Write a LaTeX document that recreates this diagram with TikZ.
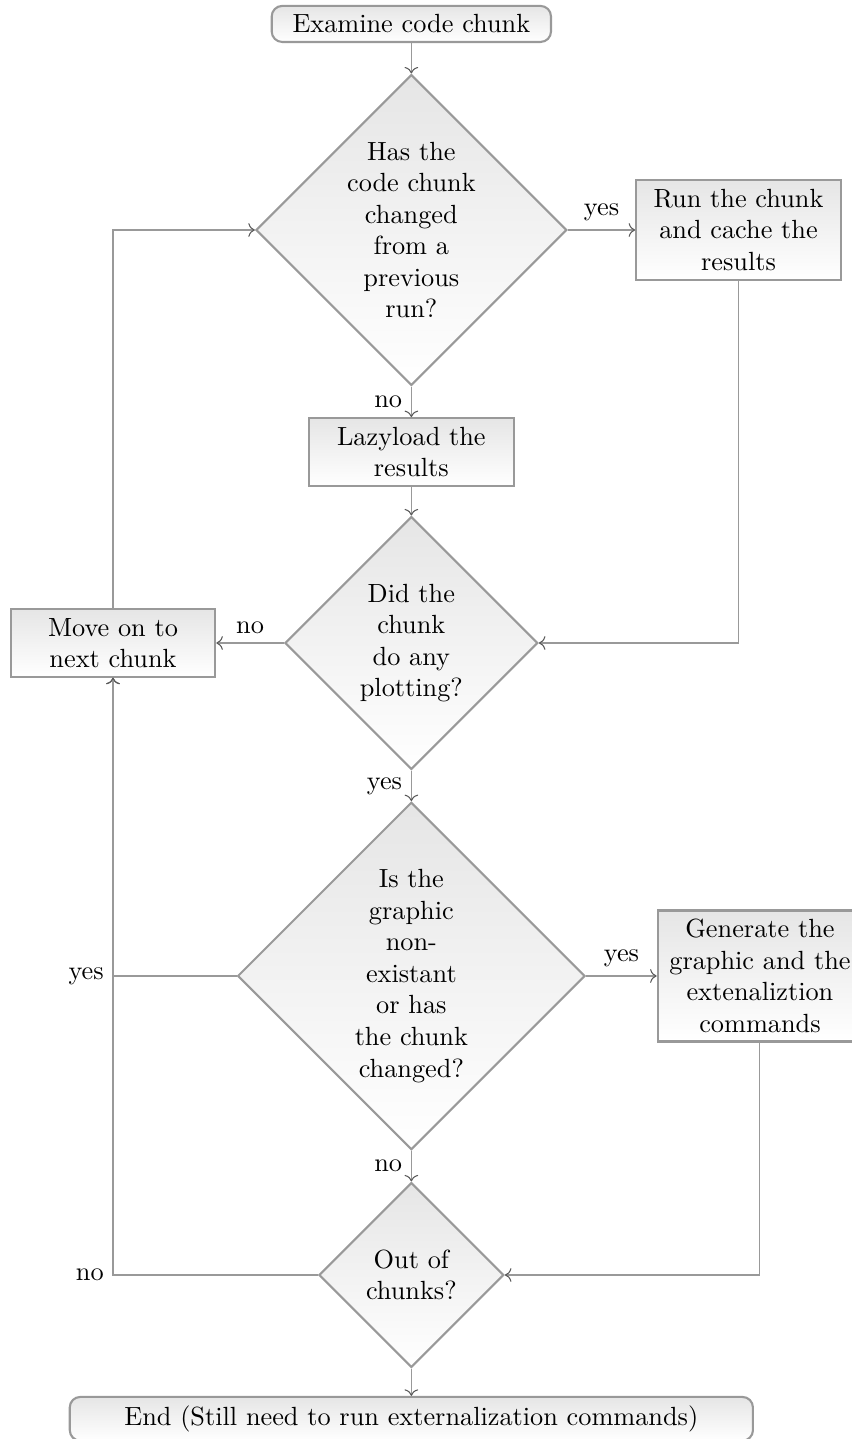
\documentclass[tikz,border=0pt]{standalone}
\usetikzlibrary{shapes.geometric,arrows.meta}
\begin{document}
\begin{tikzpicture}[
    box/.style={rectangle, draw=gray!80, line width=0.8pt, top color=black!10, bottom color=white, text width=2.5cm, align=center},
    decision/.style={diamond, aspect=1, draw=gray!80, line width=0.8pt, top color=black!10, bottom color=white, text width=1.8cm, inner sep=0pt, align=center},
    startstop/.style={rectangle, rounded corners, draw=gray!80, line width=0.8pt, top color=black!10, bottom color=white, align=center},
    flow/.style={-{To[color=black!65]}, draw=gray!80}
]
    \useasboundingbox (0,0) rectangle (11.39,-19.24);

    \node[startstop, text width=3.5cm] (start) at (5.50,-0.32) {Examine code chunk};
    \node[decision] (changed) at (5.50,-3.075) {Has the\\code chunk\\changed\\from a\\previous\\run?};
    \node[box] (run) at (9.874,-3.075) {Run the chunk\\and cache the\\results};
    \node[box] (lazy) at (5.50,-6.043) {Lazyload the\\results};
    \node[decision] (plot) at (5.50,-8.597) {Did the\\chunk\\do any\\plotting?};
    \node[box] (next) at (1.511,-8.597) {Move on to\\next chunk};
    \node[decision] (graphic) at (5.50,-13.049) {Is the\\graphic\\non-\\existant\\or has\\the chunk\\changed?};
    \node[box] (gen) at (10.161,-13.049) {Generate the\\graphic and the\\extenaliztion\\commands};
    \node[decision] (out) at (5.50,-17.047) {Out of\\chunks?};
    \node[startstop, text width=8.9cm] (end) at (5.50,-18.97) {End (Still need to run externalization commands)};

    \draw[flow] (start) -- (changed);
    \draw[flow] (changed) -- node[above] {yes} (run);
    \draw[flow] (changed) -- node[left] {no} (lazy);
    \draw[flow] (lazy) -- (plot);
    \draw[flow] (run.south) |- (plot.east);
    \draw[flow] (plot) -- node[above] {no} (next);
    \draw[flow] (next.north) |- (changed.west);
    \draw[flow] (plot) -- node[left] {yes} (graphic);
    \draw[flow] (graphic) -- node[above] {yes} (gen);
    \draw[flow] (graphic.west) -| node[pos=0.5, left] {yes} (next.south);
    \draw[flow] (graphic) -- node[left] {no} (out);
    \draw[flow] (gen.south) |- (out.east);
    \draw[flow] (out.west) -| node[pos=0.5, left] {no} (next.south);
    \draw[flow] (out) -- (end);
\end{tikzpicture}
\end{document}
